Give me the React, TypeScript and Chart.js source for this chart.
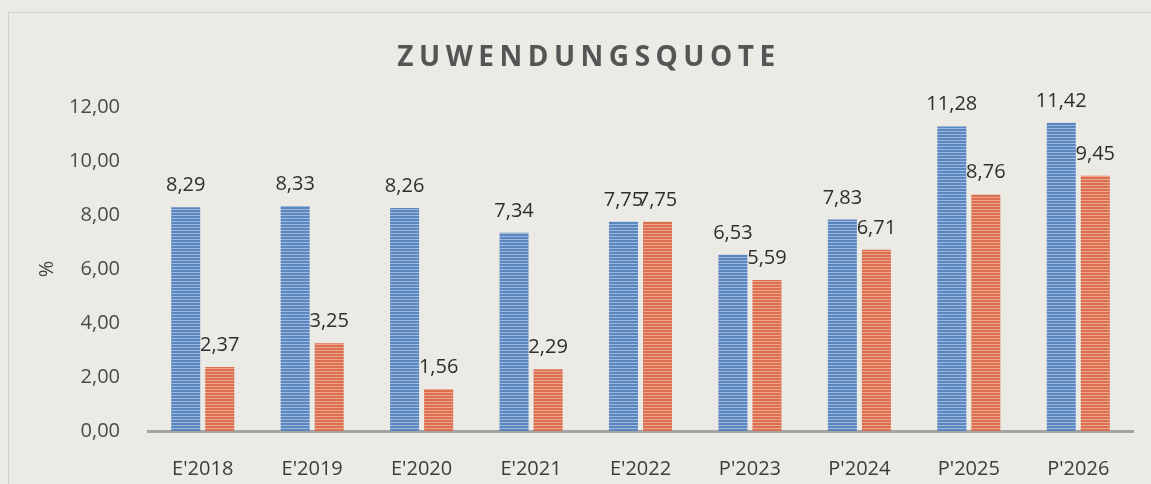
import React, { useEffect, useRef } from "react";
import { Chart, registerables } from "chart.js";

Chart.register(...registerables);

const TITLE = "ZUWENDUNGSQUOTE";
const Y_TITLE = "%";
const CATEGORIES = ["E'2018", "E'2019", "E'2020", "E'2021", "E'2022", "P'2023", "P'2024", "P'2025", "P'2026"];
const SERIES_A = [8.29, 8.33, 8.26, 7.34, 7.75, 6.53, 7.83, 11.28, 11.42];
const SERIES_B = [2.37, 3.25, 1.56, 2.29, 7.75, 5.59, 6.71, 8.76, 9.45];
const Y_MIN = 0;
const Y_MAX = 12;
const Y_STEP = 2;

const BG = "#ebeae5";
const FONT = "'Open Sans', 'Noto Sans', sans-serif";

function stripes(dark: string, light: string): CanvasPattern | string {
  const c = document.createElement("canvas");
  c.width = 4;
  c.height = 3;
  const g = c.getContext("2d");
  if (!g) return dark;
  g.fillStyle = dark;
  g.fillRect(0, 0, 4, 3);
  g.fillStyle = light;
  g.fillRect(0, 2, 4, 1);
  const p = g.createPattern(c, "repeat");
  return p || dark;
}

const fmt = (v: number) => v.toFixed(2).replace(".", ",");

const labelPlugin = {
  id: "valueLabels",
  afterDatasetsDraw(chart: any) {
    const ctx = chart.ctx;
    ctx.save();
    ctx.font = `20px ${FONT}`;
    ctx.fillStyle = "#2e2e2e";
    ctx.textAlign = "center";
    ctx.textBaseline = "alphabetic";
    chart.data.datasets.forEach((ds: any, di: number) => {
      const meta = chart.getDatasetMeta(di);
      meta.data.forEach((bar: any, i: number) => {
        ctx.fillText(fmt(ds.data[i]), bar.x, bar.y - 16);
      });
    });
    ctx.restore();
  },
};

const titlePlugin = {
  id: "spacedTitle",
  afterDraw(chart: any) {
    const ctx = chart.ctx;
    ctx.save();
    ctx.font = `bold 28px ${FONT}`;
    (ctx as any).letterSpacing = "5.5px";
    ctx.fillStyle = "#555555";
    ctx.textAlign = "center";
    ctx.textBaseline = "middle";
    ctx.fillText(TITLE, 589, 58);
    ctx.restore();
  },
};

export default function App() {
  const ref = useRef<HTMLCanvasElement>(null);

  useEffect(() => {
    document.body.style.margin = "0";
    document.body.style.background = BG;
    if (!ref.current) return;
    const chart = new Chart(ref.current, {
      type: "bar",
      data: {
        labels: CATEGORIES,
        datasets: [
          {
            label: "A",
            data: SERIES_A,
            backgroundColor: stripes("#5b87c0", "#9db8dc") as any,
            categoryPercentage: 0.622,
            barPercentage: 0.853,
          },
          {
            label: "B",
            data: SERIES_B,
            backgroundColor: stripes("#dc6f4f", "#eca68d") as any,
            categoryPercentage: 0.622,
            barPercentage: 0.853,
          },
        ],
      },
      options: {
        responsive: false,
        animation: false,
        layout: { padding: { top: 107, right: 18, left: 0, bottom: 0 } },
        plugins: {
          legend: { display: false },
          title: { display: false },
          tooltip: { enabled: false },
        },
        scales: {
          x: {
            grid: { display: false },
            border: { display: true, color: "#a3a3a3", width: 3 },
            ticks: { color: "#3c3c3c", font: { family: FONT, size: 20 }, padding: 18 },
            afterFit: (s: any) => {
              s.height = 53;
            },
          },
          y: {
            min: Y_MIN,
            max: Y_MAX,
            grid: { display: false },
            border: { display: false },
            ticks: {
              stepSize: Y_STEP,
              color: "#4a4a4a",
              font: { family: FONT, size: 20 },
              padding: 20,
              callback: (v: any) => fmt(Number(v)),
            },
            title: {
              display: true,
              text: Y_TITLE,
              color: "#444444",
              font: { family: FONT, size: 20 },
              padding: { top: 35, bottom: 0 },
            },
            afterFit: (s: any) => {
              s.width = 148;
            },
          },
        },
      },
      plugins: [labelPlugin, titlePlugin],
    });
    return () => chart.destroy();
  }, []);

  return (
    <div style={{ position: "relative", width: 1151, height: 484, background: BG, overflow: "hidden" }}>
      <div
        style={{
          position: "absolute",
          left: 8,
          top: 12,
          width: 1200,
          height: 600,
          border: "1px solid #d2d1cc",
        }}
      />
      <canvas ref={ref} width={1151} height={484} style={{ position: "absolute", left: 0, top: 0 }} />
    </div>
  );
}
